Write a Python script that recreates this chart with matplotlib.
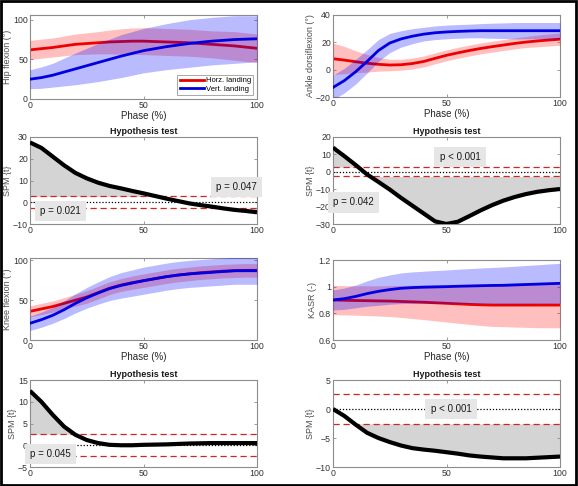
import numpy as np
import matplotlib
matplotlib.use("Agg")
import matplotlib.pyplot as plt
from matplotlib.patches import Rectangle

# ---------------- data ----------------
phase = [0, 5, 10, 15, 20, 25, 30, 35, 40, 45, 50, 55, 60, 65, 70, 75, 80, 85, 90, 95, 100]

hip_horz_mean = [62, 63.5, 65, 67, 69, 70, 71, 72, 72.5, 73, 73, 72.5, 72, 71.5, 71, 70, 69, 68, 67, 65.5, 64]
hip_horz_sd = [12, 12, 12, 12.5, 13, 13.5, 14, 15, 16, 16.5, 17, 17, 17, 17, 17, 17, 17, 17.5, 18, 18, 18]
hip_vert_mean = [25, 27, 30, 34, 38, 42, 46, 50, 54, 57.5, 61, 63.5, 66, 68, 70, 71.5, 73, 74, 75, 75.5, 76]
hip_vert_sd = [12, 13.5, 15, 17.5, 20, 22, 24, 25.5, 27, 27.5, 28, 28.5, 29, 29.5, 30, 30, 30, 30, 30, 29.5, 29]
hip_spm = [27.5, 25, 21, 17, 13.5, 11, 9, 7.5, 6.4, 5.2, 4.1, 2.9, 1.7, 0.6, -0.5, -1.3, -2.0, -2.8, -3.5, -4.0, -4.6]
hip_thresh = 2.65

ank_horz_mean = [8, 7, 5.8, 4.7, 3.9, 3.4, 3.6, 4.5, 6, 8.3, 10.5, 12.3, 14, 15.5, 16.8, 18, 19.2, 20.2, 21, 21.7, 22.3]
ank_horz_sd = [11.5, 10, 8, 6.5, 5, 4.2, 4, 4, 4, 4, 4, 4, 4, 4, 4, 4, 4, 4, 4.3, 4.4, 4.5]
ank_vert_mean = [-13, -8, -1.5, 6, 14, 19.5, 22.5, 24.5, 26, 27, 27.6, 28, 28.3, 28.5, 28.5, 28.5, 28.5, 28.5, 28.5, 28.5, 28.5]
ank_vert_sd = [9, 9, 9, 8.5, 8, 7, 6, 5.5, 5, 5, 5, 5, 5, 5.2, 5.5, 5.7, 6, 6, 6, 6, 6]
ank_spm = [13.9, 9, 3.9, -1.5, -5.8, -10.2, -15, -19.5, -24, -28.5, -30, -28.7, -25.5, -22.2, -19.2, -16.6, -14.5, -12.8, -11.5, -10.6, -9.9]
ank_thresh = 2.7

knee_horz_mean = [36, 39, 42, 46, 50, 54, 59.5, 65, 69, 72, 74.5, 77, 79.5, 81.5, 83, 84.5, 85.5, 86.5, 87, 87.5, 87.5]
knee_horz_sd = [7, 7, 7, 7.2, 7.5, 7.8, 8, 8, 8, 8.3, 8.5, 8.5, 8.5, 8.5, 8.5, 8.5, 8.5, 8.5, 8.5, 8.5, 8.5]
knee_vert_mean = [21, 25.5, 31, 38, 46, 53, 59, 64.5, 68.5, 71.5, 74.5, 77, 79.5, 81.5, 83, 84, 85, 86, 87, 87, 87]
knee_vert_sd = [9, 9.5, 10, 11, 12, 13, 14, 15, 16, 16.5, 17, 17, 17, 17, 17, 17, 17, 17, 17, 17, 17]
knee_spm = [12.5, 10, 7, 4.3, 2.4, 1.2, 0.5, 0.1, 0.0, 0.0, 0.1, 0.15, 0.2, 0.3, 0.4, 0.45, 0.5, 0.5, 0.5, 0.5, 0.5]
knee_thresh = 2.55

kasr_horz_mean = [0.9, 0.898, 0.896, 0.895, 0.893, 0.892, 0.889, 0.886, 0.883, 0.879, 0.875, 0.871, 0.867, 0.864, 0.862, 0.862, 0.862, 0.862, 0.862, 0.862, 0.862]
kasr_horz_sd = [0.11, 0.11, 0.11, 0.112, 0.113, 0.116, 0.12, 0.125, 0.13, 0.135, 0.14, 0.145, 0.15, 0.155, 0.16, 0.162, 0.165, 0.167, 0.17, 0.17, 0.17]
kasr_vert_mean = [0.9, 0.91, 0.927, 0.948, 0.965, 0.978, 0.988, 0.993, 0.996, 0.998, 1.0, 1.003, 1.005, 1.007, 1.009, 1.01, 1.013, 1.016, 1.019, 1.022, 1.025]
kasr_vert_sd = [0.075, 0.08, 0.085, 0.095, 0.105, 0.11, 0.115, 0.118, 0.12, 0.123, 0.125, 0.128, 0.13, 0.133, 0.135, 0.138, 0.14, 0.143, 0.145, 0.148, 0.15]
kasr_spm = [0, -1.2, -2.7, -4.1, -5.0, -5.7, -6.3, -6.75, -7.0, -7.2, -7.45, -7.7, -8.0, -8.2, -8.35, -8.5, -8.5, -8.5, -8.4, -8.3, -8.2]
kasr_thresh = 2.55

legend_labels = ["Horz. landing", "Vert. landing"]

# ---------------- style ----------------
FONT = ["Liberation Sans", "DejaVu Sans"]
plt.rcParams["font.family"] = FONT

W, H = 578, 486
fig = plt.figure(figsize=(W / 100, H / 100), dpi=100)
fig.patch.set_facecolor("white")

def ax_at(x0, y0, x1, y1):
    return fig.add_axes([x0 / W, 1 - y1 / H, (x1 - x0) / W, (y1 - y0) / H])

RED = (0.9, 0.0, 0.0)
BLUE = (0.0, 0.0, 0.85)
SPINE = (0.55, 0.55, 0.55)

def style(ax, xticks, yticks, ylim, ylabels=None):
    ax.set_xlim(0, 100)
    ax.set_ylim(*ylim)
    ax.set_xticks(xticks)
    ax.set_yticks(yticks)
    if ylabels is not None:
        ax.set_yticklabels(ylabels)
    for s in ax.spines.values():
        s.set_color(SPINE)
        s.set_linewidth(0.8)
    ax.tick_params(direction="in", length=2, width=0.6, color=SPINE,
                   labelsize=6.3, labelcolor=(0.2, 0.2, 0.2), pad=1.5,
                   top=True, right=True)

def kin(ax, hm, hs, vm, vs, ylim, yticks, ylabel, ylabels=None, legend=False):
    x = np.array(phase)
    hm, hs, vm, vs = map(np.array, (hm, hs, vm, vs))
    l1, = ax.plot(x, hm, color=RED, lw=2.0, zorder=2)
    ax.fill_between(x, hm - hs, hm + hs, color=(1, 0, 0), alpha=0.25, lw=0, zorder=3)
    l2, = ax.plot(x, vm, color=BLUE, lw=2.0, zorder=4)
    ax.fill_between(x, vm - vs, vm + vs, color=(0, 0, 1), alpha=0.27, lw=0, zorder=5)
    style(ax, [0, 50, 100], yticks, ylim, ylabels)
    ax.set_xlabel("Phase (%)", fontsize=7, labelpad=1, color=(0.15, 0.15, 0.15))
    ax.set_ylabel(ylabel, fontsize=6.5, color=(0.3, 0.3, 0.3), labelpad=1)
    if legend:
        lg = ax.legend([l1, l2], legend_labels, loc="lower right", fontsize=5.5,
                       frameon=True, fancybox=False, handlelength=3.2,
                       handletextpad=0.2, borderpad=0.3, labelspacing=0.15,
                       borderaxespad=0.5)
        lg.get_frame().set_edgecolor((0.5, 0.5, 0.5))
        lg.get_frame().set_linewidth(0.6)
        lg.set_zorder(10)

def spm(ax, z, thresh, ylim, yticks, texts):
    x = np.array(phase)
    z = np.array(z)
    ax.fill_between(x, z, thresh, where=z > thresh, interpolate=True,
                    color=(0.83, 0.83, 0.83), lw=0, zorder=1)
    ax.fill_between(x, z, -thresh, where=z < -thresh, interpolate=True,
                    color=(0.83, 0.83, 0.83), lw=0, zorder=1)
    ax.axhline(0, color="k", ls=(0, (1, 1.5)), lw=0.9, zorder=2)
    for t in (thresh, -thresh):
        ax.axhline(t, color=(0.8, 0.15, 0.15), ls=(0, (5, 3)), lw=0.9, zorder=2)
    ax.plot(x, z, color="k", lw=3.0, zorder=4, solid_capstyle="butt")
    style(ax, [0, 50, 100], yticks, ylim)
    ax.set_ylabel("SPM {t}", fontsize=6.5, color=(0.3, 0.3, 0.3), labelpad=1)
    ax.set_title("Hypothesis test", fontsize=6.5, fontweight="bold", pad=2,
                 color=(0.1, 0.1, 0.1))
    for (tx, ty, s) in texts:
        ax.text(tx, ty, s, fontsize=7, ha="center", va="center", zorder=6,
                color=(0.1, 0.1, 0.1),
                bbox=dict(boxstyle="square,pad=0.55", fc=(0.9, 0.9, 0.9), ec="none"))

LX0, LX1 = 30, 257
RX0, RX1 = 333, 560

ax = ax_at(LX0, 15, LX1, 99)
kin(ax, hip_horz_mean, hip_horz_sd, hip_vert_mean, hip_vert_sd, (0, 106), [0, 50, 100],
    "Hip flexion (\u00b0)", legend=True)

ax = ax_at(RX0, 15, RX1, 97)
kin(ax, ank_horz_mean, ank_horz_sd, ank_vert_mean, ank_vert_sd, (-20, 40), [-20, 0, 20, 40],
    "Ankle dorsiflexion (\u00b0)")

ax = ax_at(LX0, 137, LX1, 224)
spm(ax, hip_spm, hip_thresh, (-10, 30), [-10, 0, 10, 20, 30],
    [(13.5, -4, "p = 0.021"), (91, 7, "p = 0.047")])

ax = ax_at(RX0, 137, RX1, 224)
spm(ax, ank_spm, ank_thresh, (-30, 20), [-30, -20, -10, 0, 10, 20],
    [(56, 8.5, "p < 0.001"), (9, -17.5, "p = 0.042")])

ax = ax_at(LX0, 258, LX1, 340)
kin(ax, knee_horz_mean, knee_horz_sd, knee_vert_mean, knee_vert_sd, (0, 103), [0, 50, 100],
    "Knee flexion (\u00b0)")

ax = ax_at(RX0, 260, RX1, 340)
kin(ax, kasr_horz_mean, kasr_horz_sd, kasr_vert_mean, kasr_vert_sd, (0.6, 1.2),
    [0.6, 0.8, 1.0, 1.2], "KASR (-)", ylabels=["0.6", "0.8", "1", "1.2"])

ax = ax_at(LX0, 380, LX1, 467)
spm(ax, knee_spm, knee_thresh, (-5, 15), [-5, 0, 5, 10, 15],
    [(9, -2, "p = 0.045")])

ax = ax_at(RX0, 380, RX1, 467)
spm(ax, kasr_spm, kasr_thresh, (-10, 5), [-10, -5, 0, 5],
    [(52, 0, "p < 0.001")])

# outer black frame
fig.add_artist(Rectangle((0.002, 0.003), 0.994, 0.994, transform=fig.transFigure,
                         fill=False, ec="black", lw=2))

fig.savefig("out.png", dpi=100, facecolor="white")
